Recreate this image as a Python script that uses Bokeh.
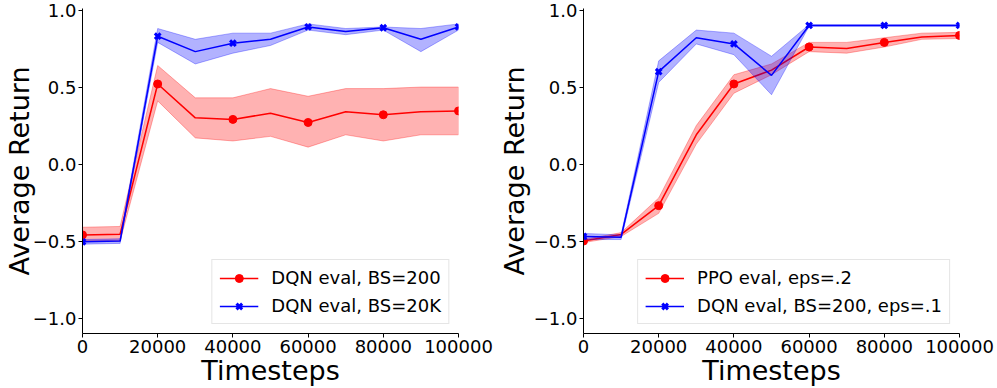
from bokeh.plotting import figure
from bokeh.layouts import row
from bokeh.models import Range1d, FixedTicker, Legend, LegendItem
from bokeh.embed import file_html
from bokeh.resources import INLINE

# ---------------- data ----------------
steps = [0, 10000, 20000, 30000, 40000, 50000, 60000, 70000, 80000, 90000, 100000]
marker_idx = [0, 2, 4, 6, 8, 10]

x_ticks = [0, 20000, 40000, 60000, 80000, 100000]
x_tick_labels = ["0", "20000", "40000", "60000", "80000", "100000"]
y_ticks = [-1.0, -0.5, 0.0, 0.5, 1.0]
y_tick_labels = ["\u22121.0", "\u22120.5", "0.0", "0.5", "1.0"]

# left panel
left_red_label = "DQN eval, BS=200"
left_red_mean = [-0.46, -0.455, 0.52, 0.30, 0.29, 0.33, 0.27, 0.34, 0.32, 0.34, 0.345]
left_red_low = [-0.50, -0.50, 0.41, 0.17, 0.15, 0.18, 0.11, 0.19, 0.15, 0.19, 0.19]
left_red_high = [-0.41, -0.405, 0.64, 0.43, 0.43, 0.49, 0.44, 0.49, 0.49, 0.50, 0.50]

left_blue_label = "DQN eval, BS=20K"
left_blue_mean = [-0.505, -0.50, 0.83, 0.73, 0.785, 0.81, 0.89, 0.86, 0.885, 0.81, 0.89]
left_blue_low = [-0.52, -0.515, 0.79, 0.65, 0.72, 0.77, 0.87, 0.84, 0.87, 0.73, 0.87]
left_blue_high = [-0.49, -0.485, 0.88, 0.81, 0.85, 0.85, 0.91, 0.88, 0.89, 0.88, 0.91]

# right panel
right_red_label = "PPO eval, eps=.2"
right_red_mean = [-0.50, -0.457, -0.27, 0.19, 0.52, 0.61, 0.76, 0.75, 0.79, 0.825, 0.835]
right_red_low = [-0.51, -0.47, -0.32, 0.13, 0.46, 0.58, 0.73, 0.72, 0.76, 0.81, 0.815]
right_red_high = [-0.49, -0.445, -0.22, 0.25, 0.58, 0.65, 0.79, 0.79, 0.82, 0.85, 0.855]

right_blue_label = "DQN eval, BS=200, eps=.1"
right_blue_mean = [-0.47, -0.475, 0.60, 0.82, 0.78, 0.576, 0.90, 0.90, 0.90, 0.90, 0.90]
right_blue_low = [-0.49, -0.49, 0.53, 0.78, 0.71, 0.45, 0.895, 0.895, 0.895, 0.895, 0.895]
right_blue_high = [-0.45, -0.46, 0.67, 0.87, 0.85, 0.70, 0.905, 0.905, 0.905, 0.905, 0.905]

x_label = "Timesteps"
y_label = "Average Return"

FONT = "DejaVu Sans"


def make_panel(series, width, border_left, border_right, ylabel_standoff):
    p = figure(width=width, height=388, output_backend="svg", toolbar_location=None,
               x_range=Range1d(0, 100000), y_range=Range1d(-1.1, 1.01),
               min_border_left=border_left, min_border_right=border_right,
               min_border_top=8, min_border_bottom=55)
    p.grid.visible = False
    p.outline_line_color = None
    p.background_fill_color = "white"
    p.border_fill_color = "white"

    for ax in (p.xaxis[0], p.yaxis[0]):
        ax.axis_line_color = "black"
        ax.axis_line_width = 1
        ax.major_tick_line_color = "black"
        ax.major_tick_in = 0
        ax.major_tick_out = 4
        ax.minor_tick_line_color = None
        ax.major_label_text_font = FONT
        ax.major_label_text_font_size = "18px"
        ax.major_label_text_color = "black"
        ax.axis_label_text_font = FONT
        ax.axis_label_text_font_size = "27px"
        ax.axis_label_text_font_style = "normal"
        ax.axis_label_text_color = "black"

    p.xaxis[0].ticker = FixedTicker(ticks=x_ticks)
    p.xaxis[0].major_label_overrides = dict(zip(x_ticks, x_tick_labels))
    p.xaxis[0].axis_label = x_label
    p.xaxis[0].major_label_standoff = 2
    p.xaxis[0].axis_label_standoff = -1

    p.yaxis[0].ticker = FixedTicker(ticks=y_ticks)
    p.yaxis[0].major_label_overrides = dict(zip(y_ticks, y_tick_labels))
    p.yaxis[0].axis_label = y_label
    p.yaxis[0].major_label_standoff = 2
    p.yaxis[0].axis_label_standoff = ylabel_standoff

    items = []
    for label, mean, low, high, color, marker in series:
        xs = steps + steps[::-1]
        ys = high + low[::-1]
        p.patch(xs, ys, fill_color=color, fill_alpha=0.3,
                line_color=color, line_alpha=0.3, line_width=1)
        ln = p.line(steps, mean, line_color=color, line_width=1.5)
        mx = [steps[i] for i in marker_idx]
        my = [mean[i] for i in marker_idx]
        if marker == "circle":
            sc = p.scatter(mx, my, marker="circle", size=8, fill_color=color, line_color=color)
        else:
            sc = p.scatter(mx, my, marker="x", size=8, line_color=color, line_width=3)
        items.append(LegendItem(label=label, renderers=[ln, sc]))

    legend = Legend(items=items, location="bottom_right", margin=9, padding=7,
                    spacing=7, glyph_width=39, glyph_height=20, label_height=20,
                    label_standoff=13,
                    label_text_font=FONT, label_text_font_size="18px",
                    label_text_color="black",
                    border_line_color="#cccccc", border_line_width=1,
                    background_fill_color="white", background_fill_alpha=0.8)
    p.add_layout(legend)
    return p


left = make_panel([
    (left_red_label, left_red_mean, left_red_low, left_red_high, "red", "circle"),
    (left_blue_label, left_blue_mean, left_blue_low, left_blue_high, "blue", "x"),
], width=495, border_left=82, border_right=37, ylabel_standoff=-5)

right = make_panel([
    (right_red_label, right_red_mean, right_red_low, right_red_high, "red", "circle"),
    (right_blue_label, right_blue_mean, right_blue_low, right_blue_high, "blue", "x"),
], width=502, border_left=88, border_right=38, ylabel_standoff=1)

layout = row(left, right, spacing=0)

open("out.html", "w").write(file_html(layout, INLINE))
